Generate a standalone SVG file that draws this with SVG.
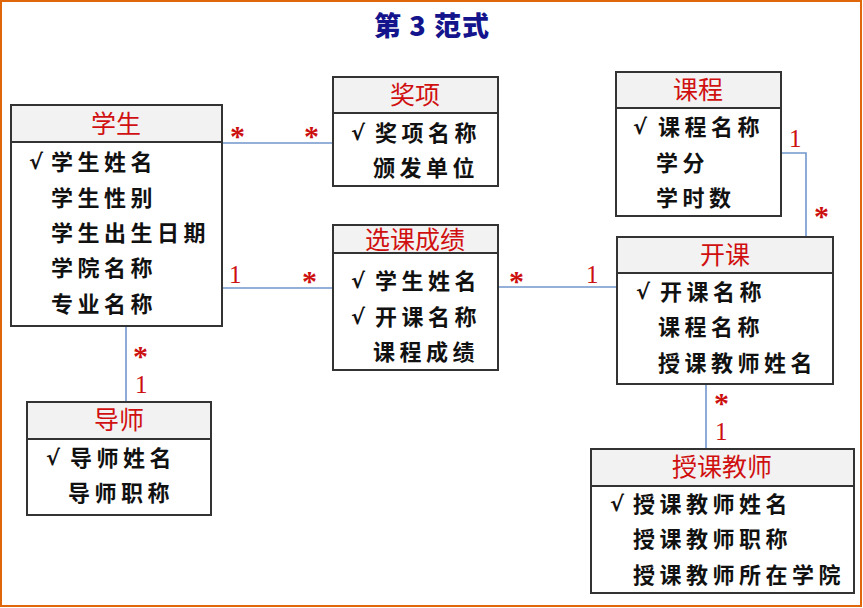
<svg xmlns="http://www.w3.org/2000/svg" width="863" height="608" viewBox="0 0 863 608">
<style>
.box{fill:#fff;stroke:#333;stroke-width:2}
.hdr{fill:#f2f2f2;stroke:#333;stroke-width:2}
.ht{font-family:"Noto Sans CJK SC",sans-serif;font-size:25px;fill:#d01010;text-anchor:middle}
.at{font-family:"Noto Sans CJK SC",sans-serif;font-size:22px;font-weight:bold;fill:#111;letter-spacing:4.5px}
.ck{font-family:"DejaVu Sans",sans-serif;font-size:21px;font-weight:bold;fill:#111}
.ml{font-family:"Liberation Serif",serif;font-size:25px;fill:#cc1010}
.st{font-family:"Liberation Serif",serif;font-size:30px;font-weight:bold;fill:#cc1010}
.cn{fill:none;stroke:#7096cc;stroke-width:1.6}
</style>
<rect x="1" y="1" width="860" height="605" fill="#fff" stroke="#e0660a" stroke-width="2"/>
<text x="432" y="36" font-family="Noto Sans CJK SC,sans-serif" font-size="27" font-weight="900" fill="#14148c" text-anchor="middle" letter-spacing="1">第 3 范式</text>

<g id="connectors">
<line class="cn" x1="222" y1="143" x2="333" y2="143"/>
<line class="cn" x1="222" y1="288" x2="333" y2="288"/>
<line class="cn" x1="498" y1="287" x2="617" y2="287"/>
<polyline class="cn" points="781,153 806,153 806,237"/>
<line class="cn" x1="126" y1="327" x2="126" y2="402"/>
<line class="cn" x1="706" y1="384" x2="706" y2="449"/>
<text class="st" x="230" y="146">*</text>
<text class="st" x="304" y="146">*</text>
<text class="ml" x="229" y="283">1</text>
<text class="st" x="302" y="291">*</text>
<text class="st" x="509" y="291">*</text>
<text class="ml" x="586" y="283">1</text>
<text class="ml" x="789" y="147">1</text>
<text class="st" x="814" y="226">*</text>
<text class="st" x="133" y="366">*</text>
<text class="ml" x="135" y="393">1</text>
<text class="st" x="714" y="413">*</text>
<text class="ml" x="715" y="440">1</text>
</g>

<g id="student">
<rect class="box" x="11" y="105" width="211" height="221"/>
<rect class="hdr" x="11" y="105" width="211" height="37"/>
<text class="ht" x="116" y="133">学生</text>
<text class="ck" x="29" y="169">√</text>
<text class="at" x="51" y="170">学生姓名</text>
<text class="at" x="51" y="206">学生性别</text>
<text class="at" x="51" y="241">学生出生日期</text>
<text class="at" x="51" y="276">学院名称</text>
<text class="at" x="51" y="312">专业名称</text>
</g>

<g id="award">
<rect class="box" x="333" y="77" width="165" height="109"/>
<rect class="hdr" x="333" y="77" width="165" height="36"/>
<text class="ht" x="415" y="104">奖项</text>
<text class="ck" x="351" y="140">√</text>
<text class="at" x="375" y="141">奖项名称</text>
<text class="at" x="373" y="176">颁发单位</text>
</g>

<g id="grade">
<rect class="box" x="333" y="225" width="165" height="145"/>
<rect class="hdr" x="333" y="225" width="165" height="28"/>
<text class="ht" x="415" y="249">选课成绩</text>
<text class="ck" x="351" y="288">√</text>
<text class="at" x="375" y="289">学生姓名</text>
<text class="ck" x="351" y="324">√</text>
<text class="at" x="375" y="325">开课名称</text>
<text class="at" x="373" y="360">课程成绩</text>
</g>

<g id="course">
<rect class="box" x="616" y="72" width="165" height="144"/>
<rect class="hdr" x="616" y="72" width="165" height="36"/>
<text class="ht" x="698" y="99">课程</text>
<text class="ck" x="633" y="134">√</text>
<text class="at" x="658" y="135">课程名称</text>
<text class="at" x="656" y="171">学分</text>
<text class="at" x="656" y="206">学时数</text>
</g>

<g id="offering">
<rect class="box" x="617" y="237" width="216" height="147"/>
<rect class="hdr" x="617" y="237" width="216" height="36"/>
<text class="ht" x="725" y="264">开课</text>
<text class="ck" x="636" y="299">√</text>
<text class="at" x="660" y="300">开课名称</text>
<text class="at" x="658" y="335">课程名称</text>
<text class="at" x="658" y="371">授课教师姓名</text>
</g>

<g id="advisor">
<rect class="box" x="27" y="402" width="184" height="113"/>
<rect class="hdr" x="27" y="402" width="184" height="37"/>
<text class="ht" x="119" y="429">导师</text>
<text class="ck" x="46" y="465">√</text>
<text class="at" x="70" y="466">导师姓名</text>
<text class="at" x="68" y="501">导师职称</text>
</g>

<g id="teacher">
<rect class="box" x="591" y="449" width="263" height="144"/>
<rect class="hdr" x="591" y="449" width="263" height="37"/>
<text class="ht" x="722" y="476">授课教师</text>
<text class="ck" x="610" y="511">√</text>
<text class="at" x="633" y="512">授课教师姓名</text>
<text class="at" x="633" y="547">授课教师职称</text>
<text class="at" x="633" y="583">授课教师所在学院</text>
</g>
</svg>
